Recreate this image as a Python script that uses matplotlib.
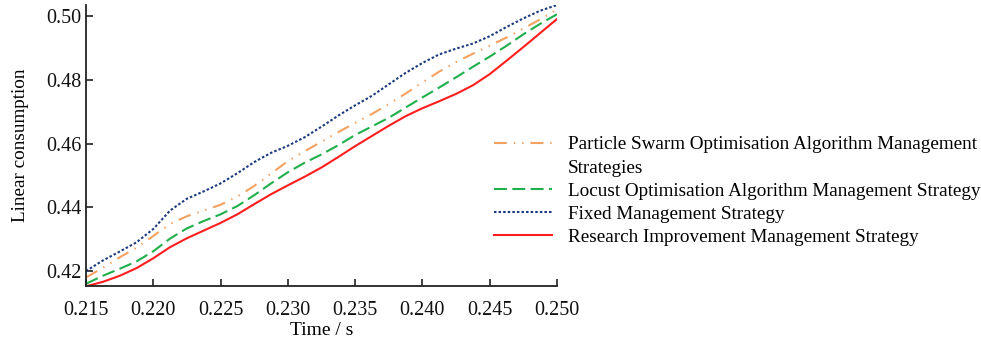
import matplotlib
matplotlib.use("Agg")
import matplotlib.pyplot as plt
from matplotlib.lines import Line2D

time_s = [0.21500, 0.21625, 0.21750, 0.21875, 0.22000, 0.22125, 0.22250,
          0.22375, 0.22500, 0.22625, 0.22750, 0.22875, 0.23000, 0.23125,
          0.23250, 0.23375, 0.23500, 0.23625, 0.23750, 0.23875, 0.24000,
          0.24125, 0.24250, 0.24375, 0.24500, 0.24625, 0.24750, 0.24875,
          0.25000]
fixed = [0.4200, 0.4233, 0.4261, 0.4290, 0.4332, 0.4390, 0.4427,
         0.4450, 0.4475, 0.4507, 0.4542, 0.4571, 0.4593, 0.4620,
         0.4653, 0.4688, 0.4720, 0.4750, 0.4786, 0.4822, 0.4853,
         0.4880, 0.4898, 0.4914, 0.4937, 0.4966, 0.4993, 0.5017,
         0.5035]
pso = [0.4180, 0.4210, 0.4243, 0.4273, 0.4310, 0.4348, 0.4372,
       0.4390, 0.4408, 0.4434, 0.4467, 0.4506, 0.4545, 0.4576,
       0.4606, 0.4636, 0.4665, 0.4693, 0.4724, 0.4757, 0.4792,
       0.4826, 0.4856, 0.4882, 0.4907, 0.4933, 0.4961, 0.4990,
       0.5021]
locust = [0.4160, 0.4185, 0.4207, 0.4230, 0.4262, 0.4302, 0.4334,
          0.4357, 0.4378, 0.4404, 0.4438, 0.4475, 0.4510, 0.4540,
          0.4566, 0.4595, 0.4627, 0.4654, 0.4681, 0.4713, 0.4745,
          0.4776, 0.4808, 0.4841, 0.4873, 0.4907, 0.4943, 0.4976,
          0.5006]
research = [0.4152, 0.4166, 0.4185, 0.4209, 0.4240, 0.4275, 0.4303,
            0.4327, 0.4351, 0.4378, 0.4410, 0.4441, 0.4469, 0.4496,
            0.4525, 0.4558, 0.4592, 0.4624, 0.4656, 0.4686, 0.4711,
            0.4733, 0.4756, 0.4783, 0.4818, 0.4860, 0.4903, 0.4947,
            0.4991]

labels = ["Particle Swarm Optimisation Algorithm Management",
          "Strategies",
          "Locust Optimisation Algorithm Management Strategy",
          "Fixed Management Strategy",
          "Research Improvement Management Strategy"]
xticks = [0.215, 0.220, 0.225, 0.230, 0.235, 0.240, 0.245, 0.250]
yticks = [0.42, 0.44, 0.46, 0.48, 0.50]

c_orange = "#F4A261"
c_green = "#1FAF4B"
c_blue = "#1C3A7E"
c_red = "#FF1E1E"

plt.rcParams['font.family'] = ['Liberation Serif', 'DejaVu Serif']

fig = plt.figure(figsize=(9.81, 3.41), dpi=100)
ax = fig.add_axes([86/981, 1-286/341, (557-86)/981, (286-5)/341])

lw = 1.5
l1, = ax.plot(time_s, pso, color=c_orange, lw=lw, dashes=(6.2, 3.3, 0.7, 3.3, 0.7, 3.3))
l2, = ax.plot(time_s, locust, color=c_green, lw=lw, dashes=(6.2, 2.6))
l3, = ax.plot(time_s, fixed, color=c_blue, lw=lw, dashes=(1.2, 1.0))
l4, = ax.plot(time_s, research, color=c_red, lw=lw)

ax.set_xlim(0.215, 0.250)
ax.set_ylim(0.4153, 0.5035)
ax.set_xticks(xticks)
ax.set_xticklabels([f"{v:.3f}" for v in xticks])
ax.set_yticks(yticks)
ax.set_yticklabels([f"{v:.2f}" for v in yticks])
for s in ['top', 'right']:
    ax.spines[s].set_visible(False)
for s in ['left', 'bottom']:
    ax.spines[s].set_linewidth(1.3)
    ax.spines[s].set_color("#222222")
ax.tick_params(direction='in', length=5, width=1.2, labelsize=14.5, colors="#222222",
               labelcolor="#111111")
ax.tick_params(axis='x', pad=10.5)
ax.tick_params(axis='y', pad=3.5)
ax.set_xlabel("Time / s", fontsize=14, labelpad=2)
ax.set_ylabel("Linear consumption", fontsize=13.8, labelpad=12)

blank = Line2D([], [], color='none')
fig.legend([l1, blank, l2, l3, l4], labels, loc='center left',
           bbox_to_anchor=(494/981, 1-191/341), frameon=False, borderpad=0,
           borderaxespad=0, handlelength=3.04, handletextpad=0.84,
           labelspacing=0.3, fontsize=13.75)

fig.savefig("out.png", dpi=100)
